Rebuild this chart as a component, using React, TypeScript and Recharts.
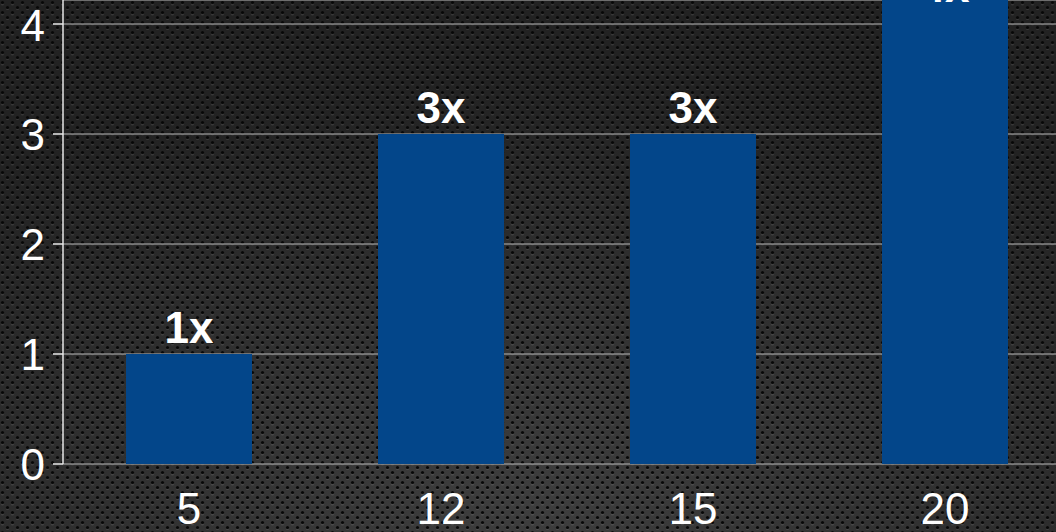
import React from "react";
import { BarChart, Bar, XAxis, YAxis, CartesianGrid, LabelList } from "recharts";

const categories = ["5", "12", "15", "20"];
const values = [1, 3, 3, 4.25];
const barLabels = ["1x", "3x", "3x", "4x"];
const yTicks = [0, 1, 2, 3, 4];
const boundaryTicks = [0, 1, 2, 3, 4];

const data = categories.map((c, i) => ({ cat: c, idx: i + 0.5, value: values[i], label: barLabels[i] }));

const FONT = "'Liberation Sans', Arial, sans-serif";

const renderLabel = (props: any) => {
  const { x, y, width, value } = props;
  const top = Math.max(Number(y), 13);
  return (
    <text
      x={Number(x) + Number(width) / 2}
      y={top - 11}
      textAnchor="middle"
      fill="#ffffff"
      fontFamily={FONT}
      fontWeight="bold"
      fontSize={44}
    >
      {value}
    </text>
  );
};

const Background = () => (
  <svg width={1056} height={532} style={{ position: "absolute", left: 0, top: 0, display: "block" }}>
    <defs>
      <radialGradient id="bgGrad" cx="50%" cy="95%" r="80%">
        <stop offset="0%" stopColor="#3e3e3e" />
        <stop offset="100%" stopColor="#222222" />
      </radialGradient>
      <pattern id="dots" width={10} height={10} patternUnits="userSpaceOnUse">
        <circle cx={2.5} cy={4.2} r={1.3} fill="rgba(255,255,255,0.10)" />
        <circle cx={7.5} cy={9.2} r={1.3} fill="rgba(255,255,255,0.10)" />
        <circle cx={2.5} cy={2.5} r={1.6} fill="#070707" />
        <circle cx={7.5} cy={7.5} r={1.6} fill="#070707" />
      </pattern>
    </defs>
    <rect x={0} y={0} width={1056} height={532} fill="url(#bgGrad)" />
    <rect x={0} y={0} width={1056} height={532} fill="url(#dots)" />
  </svg>
);

export default function App() {
  return (
    <div style={{ position: "fixed", left: 0, top: 0, width: 1056, height: 532, overflow: "hidden", background: "#222" }}>
      <Background />
      <div style={{ position: "absolute", left: 0, top: 0 }}>
        <BarChart
          width={1080}
          height={532}
          data={data}
          margin={{ top: 0, right: 9, bottom: 0, left: 0 }}
          barCategoryGap="25%"
        >
          <CartesianGrid vertical={false} stroke="#b8b8b8" strokeWidth={1} />
          <XAxis
            xAxisId="bound"
            dataKey="idx"
            type="number"
            domain={[0, 4]}
            ticks={boundaryTicks}
            tick={false}
            height={0}
            tickSize={10}
            axisLine={{ stroke: "#e8e8e8", strokeWidth: 1.5 }}
            tickLine={{ stroke: "#e8e8e8", strokeWidth: 1.5 }}
          />
          <XAxis
            xAxisId="cat"
            dataKey="cat"
            type="category"
            height={68}
            axisLine={false}
            tickLine={false}
            tickSize={0}
            tickMargin={29}
            tick={{ fill: "#ffffff", fontSize: 44, fontFamily: FONT }}
          />
          <YAxis
            width={63}
            domain={[0, 464 / 110]}
            ticks={yTicks}
            allowDataOverflow
            tickSize={10}
            tickMargin={8}
            axisLine={{ stroke: "#e8e8e8", strokeWidth: 1.5 }}
            tickLine={{ stroke: "#e8e8e8", strokeWidth: 1.5 }}
            tick={{ fill: "#ffffff", fontSize: 44, fontFamily: FONT }}
          />
          <Bar dataKey="value" xAxisId="cat" fill="#03468a" isAnimationActive={false}>
            <LabelList dataKey="label" content={renderLabel} />
          </Bar>
        </BarChart>
      </div>
    </div>
  );
}
